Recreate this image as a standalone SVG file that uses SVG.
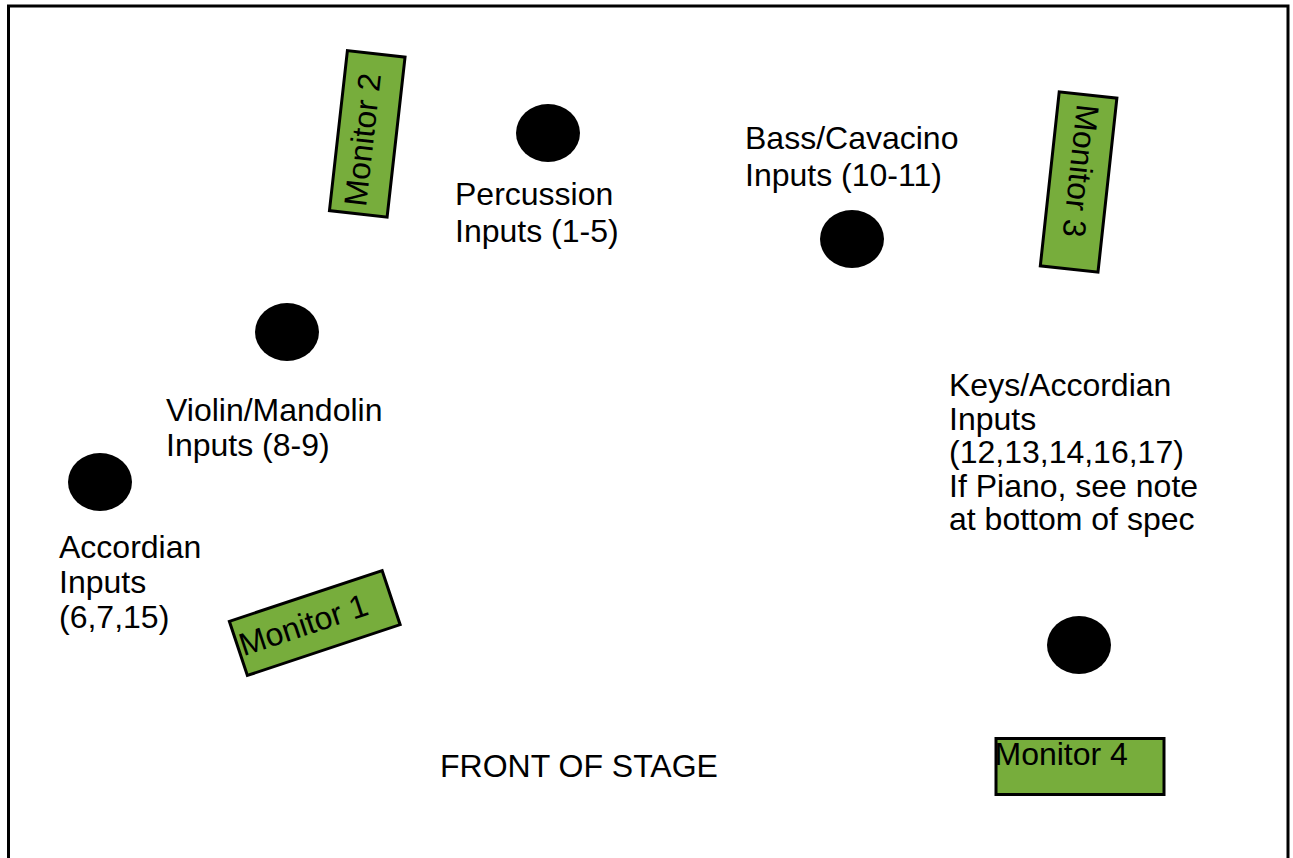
<svg xmlns="http://www.w3.org/2000/svg" width="1293" height="858" viewBox="0 0 1293 858">
<style>
.lbl{font-family:"Liberation Sans",Arial,Helvetica,sans-serif;font-size:32px;fill:#000}
.mon{fill:#77AD3C;stroke:#000;stroke-width:3}
.mic{fill:#000}
</style>
<rect width="1293" height="858" fill="#fff"/>
<path id="stage-border" d="M8.5,870 V6 H1288 V870" fill="none" stroke="#000" stroke-width="3"/>

<g id="percussion">
  <ellipse class="mic" cx="548" cy="133" rx="32" ry="29"/>
  <text class="lbl" x="455" y="205">Percussion</text>
  <text class="lbl" x="455" y="242">Inputs (1-5)</text>
</g>
<g id="bass-cavacino">
  <ellipse class="mic" cx="852" cy="239" rx="32" ry="29"/>
  <text class="lbl" x="745" y="149">Bass/Cavacino</text>
  <text class="lbl" x="745" y="186">Inputs (10-11)</text>
</g>
<g id="violin-mandolin">
  <ellipse class="mic" cx="287" cy="332" rx="32" ry="29"/>
  <text class="lbl" x="166" y="421">Violin/Mandolin</text>
  <text class="lbl" x="166" y="456">Inputs (8-9)</text>
</g>
<g id="accordian">
  <ellipse class="mic" cx="100" cy="482" rx="32" ry="29"/>
  <text class="lbl" x="59" y="558">Accordian</text>
  <text class="lbl" x="59" y="593">Inputs</text>
  <text class="lbl" x="59" y="628">(6,7,15)</text>
</g>
<g id="keys-accordian">
  <ellipse class="mic" cx="1079" cy="645" rx="32" ry="29"/>
  <text class="lbl" x="949" y="396">Keys/Accordian</text>
  <text class="lbl" x="949" y="429.5">Inputs</text>
  <text class="lbl" x="949" y="463">(12,13,14,16,17)</text>
  <text class="lbl" x="949" y="496.5">If Piano, see note</text>
  <text class="lbl" x="949" y="530">at bottom of spec</text>
</g>

<g id="monitor-1" transform="translate(314.75,623) rotate(-18.4)">
  <rect class="mon" x="-80.5" y="-28.5" width="161" height="57"/>
  <text class="lbl" x="-78" y="9">Monitor 1</text>
</g>
<g id="monitor-2" transform="translate(367.25,133.85) rotate(-83.6)">
  <rect class="mon" x="-80.5" y="-29" width="161" height="58"/>
  <text class="lbl" x="-73" y="7">Monitor 2</text>
</g>
<g id="monitor-3" transform="translate(1078.6,182) rotate(96.2)">
  <rect class="mon" x="-87.5" y="-29" width="175" height="58"/>
  <text class="lbl" x="-78" y="10">Monitor 3</text>
</g>
<g id="monitor-4">
  <rect class="mon" x="996" y="738.5" width="168" height="56"/>
  <text class="lbl" x="994.5" y="765">Monitor 4</text>
</g>

<g id="front-of-stage">
  <text class="lbl" x="440" y="777">FRONT OF STAGE</text>
</g>
</svg>
